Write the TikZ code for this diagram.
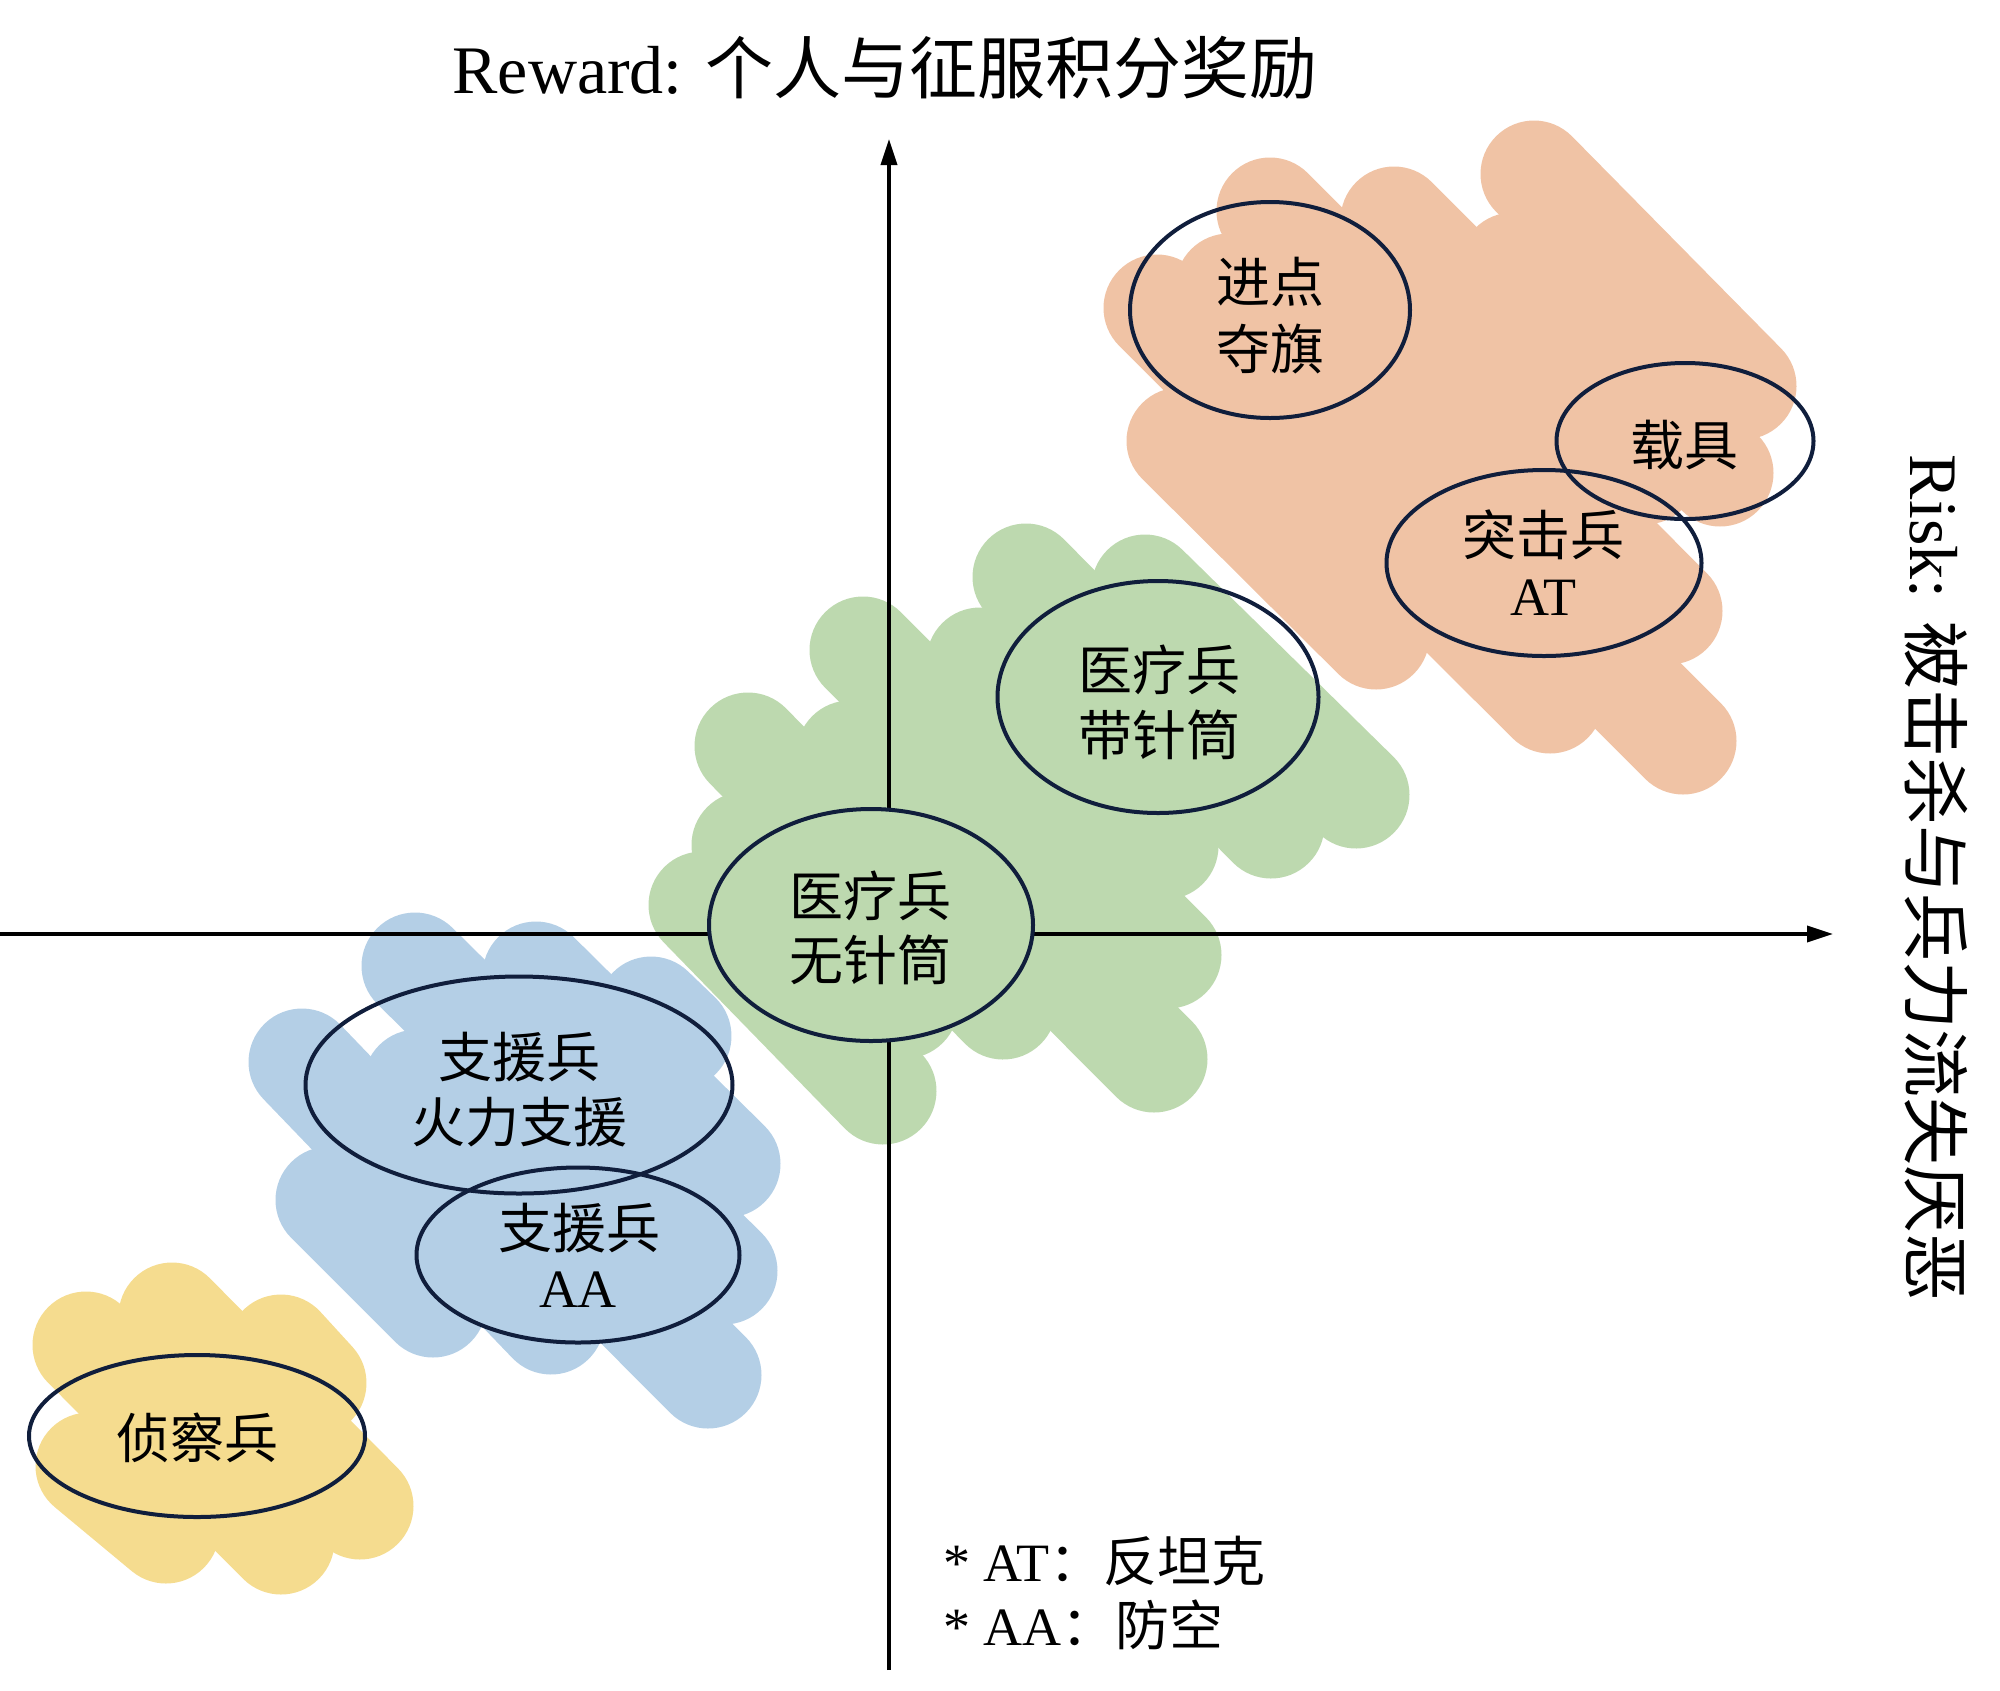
\documentclass[tikz,border=0pt]{standalone}
\usepackage{fontspec}
\setmainfont{Liberation Serif}
\newfontfamily\cjk{Noto Sans CJK SC}
\usetikzlibrary{shapes.geometric,arrows.meta}
\definecolor{cOrange}{HTML}{F0C3A5}
\definecolor{cGreen}{HTML}{BDD9AF}
\definecolor{cBlue}{HTML}{B4CFE6}
\definecolor{cYellow}{HTML}{F5DC8F}
\definecolor{cNavy}{RGB}{16,30,60}
\tikzset{
  blob/.style={line width=107pt, line cap=round},
  axisline/.style={line width=3.5pt, black, -{Triangle[length=26pt,width=16pt]}},
  ell/.style={ellipse, draw=cNavy, line width=4pt, inner sep=0pt},
  lab/.style={font=\fontsize{54}{64}\selectfont, inner sep=0pt, anchor=base},
  bigtext/.style={font=\fontsize{68}{80}\selectfont, inner sep=0pt},
}
\begin{document}
\begin{tikzpicture}[x=1pt,y=-1pt]
\useasboundingbox (0,0) rectangle (2000,1690);
% orange blob
\begin{scope}[blob, draw=cOrange]
\draw (1534,174) -- (1743,386);
\draw (1513,266) -- (1720,473);
\draw (1394,220) -- (1645,471);
\draw (1270,211) -- (1669,611);
\draw (1229,287) -- (1683,741);
\draw (1157,308) -- (1550,700);
\draw (1180,441) -- (1376,636);
\end{scope}
% green blob
\begin{scope}[blob, draw=cGreen]
\draw (1145,588) -- (1356,795);
\draw (1026,577) -- (1271,825);
\draw (980,661) -- (1165,846);
\draw (863,650) -- (1168,955);
\draw (850,754) -- (1154,1059);
\draw (748,746) -- (1003,1006);
\draw (745,845) -- (905,1005);
\draw (702,905) -- (883,1091);
\end{scope}
% blue blob
\begin{scope}[blob, draw=cBlue]
\draw (415,966) -- (724,1271);
\draw (536,975) -- (727,1164);
\draw (651,1010) -- (678,1036);
\draw (417,1083) -- (708,1375);
\draw (302,1062) -- (551,1321);
\draw (329,1200) -- (433,1304);
\end{scope}
% yellow blob
\begin{scope}[blob, draw=cYellow]
\draw (172,1316) -- (360,1506);
\draw (281,1348) -- (313,1383);
\draw (86,1345) -- (281,1541);
\draw (89,1466) -- (166,1530);
\end{scope}
% axes
\coordinate (xs) at (0,934);
\coordinate (xe) at (1833,934);
\coordinate (ys) at (889,1670);
\coordinate (ye) at (889,139);
\draw[axisline] (xs) -- (xe);
\draw[axisline] (ys) -- (ye);
% ellipses
\node[ell, minimum width=280pt, minimum height=216pt] (e1) at (1270,310) {};
\node[ell, minimum width=257pt, minimum height=156pt] (e2) at (1685,441) {};
\node[ell, minimum width=315pt, minimum height=186pt] (e3) at (1544,563) {};
\node[ell, minimum width=321pt, minimum height=232pt] (e4) at (1158,697) {};
\node[ell, fill=cGreen, minimum width=324pt, minimum height=232pt] (e5) at (871,925) {};
\node[ell, minimum width=427pt, minimum height=217pt] (e6) at (519,1085) {};
\node[ell, minimum width=323pt, minimum height=175pt] (e7) at (578,1255) {};
\node[ell, minimum width=336pt, minimum height=162pt] (e8) at (197,1436) {};
% labels
\node[lab] (l1a) at (1270,302) {\cjk 进点};
\node[lab] (l1b) at (1270,369) {\cjk 夺旗};
\node[lab] (l2) at (1684,465) {\cjk 载具};
\node[lab] (l3a) at (1543,555) {\cjk 突击兵};
\node[lab] (l3b) at (1543,615) {AT};
\node[lab] (l4a) at (1159,690) {\cjk 医疗兵};
\node[lab] (l4b) at (1159,755) {\cjk 带针筒};
\node[lab] (l5a) at (870,916) {\cjk 医疗兵};
\node[lab] (l5b) at (870,980) {\cjk 无针筒};
\node[lab] (l6a) at (519,1077) {\cjk 支援兵};
\node[lab] (l6b) at (519,1142) {\cjk 火力支援};
\node[lab] (l7a) at (579,1248) {\cjk 支援兵};
\node[lab] (l7b) at (578,1307) {AA};
\node[lab] (l8) at (197,1458) {\cjk 侦察兵};
% titles
\node[bigtext, anchor=base] (title) at (885,93) {Reward: {\cjk 个人与征服积分奖励}};
\node[bigtext, rotate=-90] (risk) at (1936,878) {Risk: {\cjk 被击杀与兵力流失厌恶}};
% footnotes
\node[lab, anchor=base west] (n1) at (943,1581) {* AT{\cjk ：反坦克}};
\node[lab, anchor=base west] (n2) at (943,1645) {* AA{\cjk ：防空}};
\end{tikzpicture}
\end{document}
